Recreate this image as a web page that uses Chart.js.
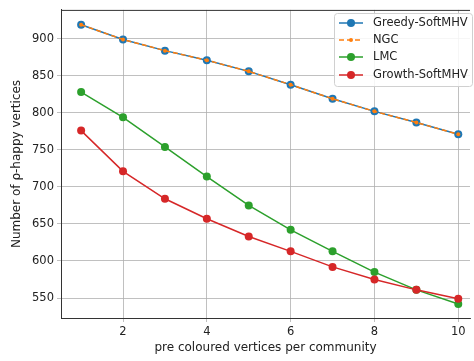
<!DOCTYPE html>
<html>
<head>
<meta charset="utf-8">
<script src="https://cdn.jsdelivr.net/npm/chart.js@4"></script>
<style>
  body { margin: 0; background: #fff; }
  canvas { display: block; }
</style>
</head>
<body>
<canvas id="chart" width="474" height="361"></canvas>
<script>
// data
const preColoured = [1, 2, 3, 4, 5, 6, 7, 8, 9, 10];
const greedySoftMHV = [919, 899, 884, 871, 856, 838, 819, 802, 787, 771];
const ngc = [919, 899, 884, 871, 856, 838, 819, 802, 787, 771];
const lmc = [828, 794, 754, 714, 675, 642, 613, 585, 561, 542];
const growthSoftMHV = [776, 721, 684, 657, 633, 613, 592, 575, 561, 549];
const xTicks = [2, 4, 6, 8, 10];
const yTicks = [550, 600, 650, 700, 750, 800, 850, 900];

const FONT = 'DejaVu Sans';

function toPoints(values) {
    return preColoured.map((x, i) => ({ x: x, y: values[i] }));
}

const series = [
    { label: 'Greedy-SoftMHV', data: greedySoftMHV, color: '#1f77b4', radius: 4, dash: [], order: 4 },
    { label: 'NGC', data: ngc, color: '#ff7f0e', radius: 2, dash: [5, 3], order: 3 },
    { label: 'LMC', data: lmc, color: '#2ca02c', radius: 4, dash: [], order: 2 },
    { label: 'Growth-SoftMHV', data: growthSoftMHV, color: '#d62728', radius: 4, dash: [], order: 1 }
];

// top frame line + legend box inside the plot
const framePlugin = {
    id: 'frame',
    afterDraw(chart) {
        const ctx = chart.ctx;
        const area = chart.chartArea;
        ctx.save();
        ctx.strokeStyle = '#333';
        ctx.lineWidth = 1;
        ctx.beginPath();
        ctx.moveTo(area.left, area.top + 0.5);
        ctx.lineTo(area.right, area.top + 0.5);
        ctx.stroke();

        // legend
        const bx = 334, by = 13, bw = 138, bh = 73;
        ctx.fillStyle = 'rgba(255,255,255,0.85)';
        ctx.strokeStyle = '#d0d0d0';
        ctx.lineWidth = 1;
        ctx.beginPath();
        ctx.roundRect(bx + 0.5, by + 0.5, bw, bh, 3);
        ctx.fill();
        ctx.stroke();

        const rows = [23, 40, 57, 75];
        ctx.font = '11.5px ' + FONT;
        ctx.textBaseline = 'middle';
        series.forEach((s, i) => {
            const y = rows[i];
            ctx.strokeStyle = s.color;
            ctx.lineWidth = 1.5;
            ctx.setLineDash(s.dash);
            ctx.beginPath();
            ctx.moveTo(339, y);
            ctx.lineTo(363, y);
            ctx.stroke();
            ctx.setLineDash([]);
            ctx.fillStyle = s.color;
            ctx.beginPath();
            ctx.arc(351, y, s.radius, 0, Math.PI * 2);
            ctx.fill();
            ctx.fillStyle = '#222';
            ctx.fillText(s.label, 373, y + 0.5);
        });
        ctx.restore();
    }
};

new Chart(document.getElementById('chart'), {
    type: 'line',
    data: {
        datasets: series.map(s => ({
            label: s.label,
            data: toPoints(s.data),
            borderColor: s.color,
            backgroundColor: s.color,
            borderWidth: 1.5,
            borderDash: s.dash,
            pointRadius: s.radius,
            pointBorderWidth: 0,
            pointBackgroundColor: s.color,
            tension: 0,
            fill: false,
            order: s.order
        }))
    },
    options: {
        responsive: false,
        animation: false,
        layout: { padding: { top: 7, right: 0, left: 10, bottom: 6 } },
        plugins: {
            legend: { display: false },
            tooltip: { enabled: false }
        },
        scales: {
            x: {
                type: 'linear',
                min: 0.52,
                max: 10.28,
                afterBuildTicks: scale => { scale.ticks = xTicks.map(v => ({ value: v })); },
                afterFit: scale => { scale.height = 37; },
                grid: { color: '#b0b0b0', lineWidth: 0.8, tickLength: 4 },
                border: { display: true, color: '#333', width: 1 },
                ticks: { color: '#222', font: { family: FONT, size: 11.5 }, padding: 3, maxRotation: 0 },
                title: {
                    display: true,
                    text: 'pre coloured vertices per community',
                    color: '#222',
                    font: { family: FONT, size: 12 },
                    padding: { top: 2, bottom: 0 }
                }
            },
            y: {
                min: 523,
                max: 939,
                afterBuildTicks: scale => { scale.ticks = yTicks.map(v => ({ value: v })); },
                afterFit: scale => { scale.width = 51; },
                grid: { color: '#b0b0b0', lineWidth: 0.8, tickLength: 4 },
                border: { display: true, color: '#333', width: 1 },
                ticks: { color: '#222', font: { family: FONT, size: 11.5 }, padding: 3 },
                title: {
                    display: true,
                    text: 'Number of ρ-happy vertices',
                    color: '#222',
                    font: { family: FONT, size: 12 },
                    padding: { top: 0, bottom: 4 }
                }
            }
        }
    },
    plugins: [framePlugin]
});
</script>
</body>
</html>
